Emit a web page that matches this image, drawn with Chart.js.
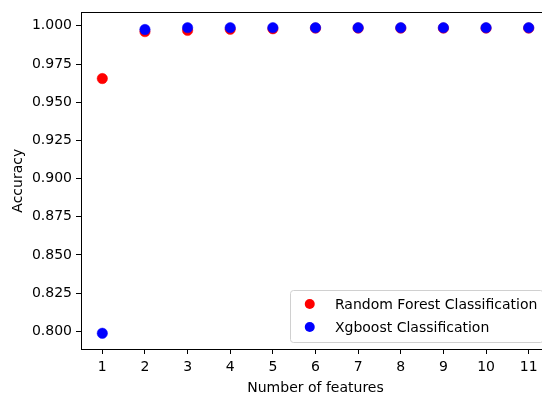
<!DOCTYPE html>
<html>
<head>
<meta charset="utf-8">
<script src="https://cdn.jsdelivr.net/npm/chart.js@4"></script>
<style>
  html, body { margin: 0; padding: 0; background: #fff; overflow: hidden; }
  #wrap { width: 560px; height: 399px; }
</style>
</head>
<body>
<div id="wrap"><canvas id="chart" width="560" height="399"></canvas></div>
<script>
// ================= DATA =================
const features = [1, 2, 3, 4, 5, 6, 7, 8, 9, 10, 11];
const rfAccuracy = [0.9655, 0.9962, 0.9970, 0.9978, 0.9981, 0.9985, 0.9985, 0.9985, 0.9985, 0.9985, 0.9985];
const xgbAccuracy = [0.7987, 0.9976, 0.9988, 0.9988, 0.9988, 0.9988, 0.9988, 0.9988, 0.9988, 0.9988, 0.9988];
const seriesNames = ["Random Forest Classification", "Xgboost Classification"];
const xTicks = [1, 2, 3, 4, 5, 6, 7, 8, 9, 10, 11];
const yTicks = [0.800, 0.825, 0.850, 0.875, 0.900, 0.925, 0.950, 0.975, 1.000];

const FONT = "DejaVu Sans";
Chart.defaults.font.family = FONT;
Chart.defaults.font.size = 14;
Chart.defaults.color = "#000";

// ================= FRAME + LEGEND (matplotlib look) =================
const mplFrame = {
  id: "mplFrame",
  afterDraw(chart) {
    const { ctx, chartArea: a } = chart;
    ctx.save();
    ctx.strokeStyle = "#000";
    ctx.lineWidth = 1;
    const l = Math.round(a.left) + 0.5, t = Math.round(a.top) + 0.5;
    const r = Math.round(a.right) + 0.5, b = Math.round(a.bottom) + 0.5;
    ctx.strokeRect(l, t, r - l, b - t);

    // legend box in lower right
    ctx.font = "14px '" + FONT + "'";
    const textW = Math.max(...seriesNames.map(n => ctx.measureText(n).width));
    const w = 5.6 + 28 + 11.2 + textW + 5.6;
    const h = 52;
    const right = a.right - 7, bottom = a.bottom - 7;
    const left = right - w, top = bottom - h;
    ctx.beginPath();
    ctx.roundRect(Math.round(left) + 0.5, Math.round(top) + 0.5, w, h, 3);
    ctx.fillStyle = "rgba(255,255,255,0.8)";
    ctx.fill();
    ctx.strokeStyle = "#d0d0d0";
    ctx.stroke();

    chart.data.datasets.forEach((ds, i) => {
      const y = top + 14 + i * 23;
      ctx.beginPath();
      ctx.arc(left + 5.6 + 14, y, 5, 0, Math.PI * 2);
      ctx.fillStyle = ds.backgroundColor;
      ctx.fill();
      ctx.fillStyle = "#000";
      ctx.textBaseline = "middle";
      ctx.textAlign = "left";
      ctx.fillText(ds.label, left + 5.6 + 28 + 11.2, y + 1);
    });
    ctx.restore();
  }
};

const ctx = document.getElementById("chart").getContext("2d");
new Chart(ctx, {
  type: "scatter",
  data: {
    datasets: [
      {
        label: seriesNames[0],
        data: features.map((f, i) => ({ x: f, y: rfAccuracy[i] })),
        backgroundColor: "#ff0000",
        borderColor: "#ff0000",
        borderWidth: 0.5,
        pointRadius: 5.2,
        order: 1
      },
      {
        label: seriesNames[1],
        data: features.map((f, i) => ({ x: f, y: xgbAccuracy[i] })),
        backgroundColor: "#0000ff",
        borderColor: "#0000ff",
        borderWidth: 0.5,
        pointRadius: 5.2,
        order: 0
      }
    ]
  },
  options: {
    responsive: false,
    animation: false,
    layout: { padding: { top: 7, right: 10, left: 0, bottom: 0 } },
    plugins: {
      legend: { display: false },
      tooltip: { enabled: false }
    },
    scales: {
      x: {
        type: "linear",
        min: 0.5,
        max: 11.5,
        afterBuildTicks: s => { s.ticks = xTicks.map(v => ({ value: v })); },
        afterFit: s => { s.height = 50; },
        grid: { drawOnChartArea: false, tickLength: 5, tickColor: "#000" },
        border: { display: false },
        ticks: { padding: 5, callback: v => String(v), maxRotation: 0 },
        title: { display: true, text: "Number of features", padding: { top: 0, bottom: 2 } }
      },
      y: {
        type: "linear",
        min: 0.7884,
        max: 1.0088,
        afterBuildTicks: s => { s.ticks = yTicks.map(v => ({ value: v })); },
        afterFit: s => { s.width = 81; },
        grid: { drawOnChartArea: false, tickLength: 5, tickColor: "#000" },
        border: { display: false },
        ticks: { padding: 4, callback: v => Number(v).toFixed(3) },
        title: { display: true, text: "Accuracy", padding: { top: 10, bottom: 0 } }
      }
    }
  },
  plugins: [mplFrame]
});
</script>
</body>
</html>
